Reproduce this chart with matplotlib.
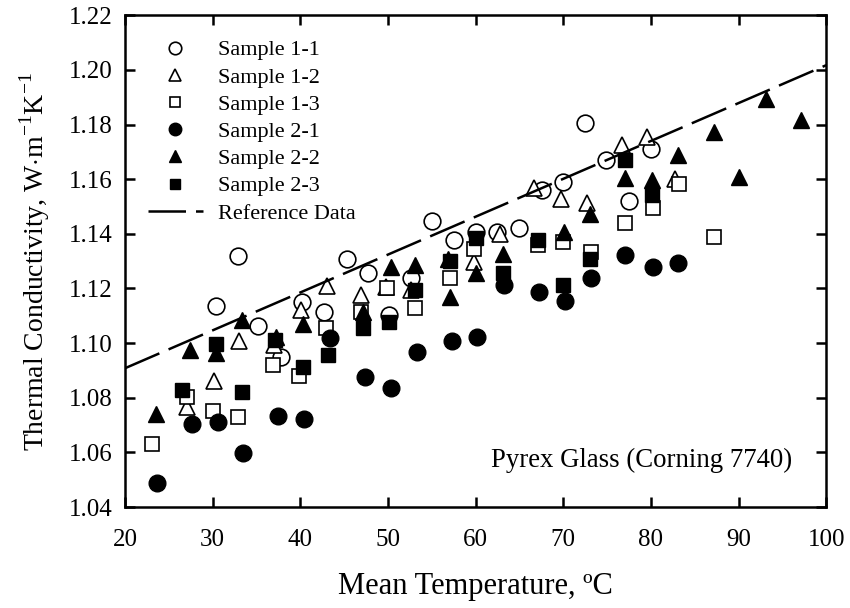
import matplotlib
matplotlib.use('Agg')
import matplotlib.pyplot as plt

plt.rcParams['font.family'] = ['Liberation Serif', 'DejaVu Serif']
plt.rcParams['mathtext.fontset'] = 'custom'
plt.rcParams['mathtext.rm'] = 'Liberation Serif'

# Sample 1-1 (open circles)
t11 = [30.4, 32.9, 35.2, 37.8, 40.2, 42.7, 45.3, 47.7, 50.1, 52.6, 55.0,
       57.5, 60.0, 62.5, 65.0, 67.6, 70.0, 72.5, 74.9, 77.5, 80.0]
k11 = [1.1136, 1.1319, 1.1063, 1.0948, 1.1151, 1.1114, 1.1307, 1.1257, 1.1102,
       1.1237, 1.1447, 1.1379, 1.1407, 1.1407, 1.1420, 1.1562, 1.1590, 1.1806,
       1.1669, 1.1519, 1.1710]

# Sample 1-2 (open triangles)
t12 = [27.1, 30.2, 33.0, 37.0, 40.1, 43.0, 46.9, 49.8, 52.6, 59.8, 62.8,
       66.7, 69.7, 72.7, 76.7, 79.6, 82.7]
k12 = [1.0765, 1.0862, 1.1008, 1.0993, 1.1121, 1.1208, 1.1176, 1.1204, 1.1196,
       1.1297, 1.1401, 1.1566, 1.1526, 1.1511, 1.1724, 1.1755, 1.1602]

# Sample 1-3 (open squares)
t13 = [23.1, 27.1, 30.0, 32.9, 36.9, 39.8, 42.9, 46.9, 49.9, 53.1, 57.1,
       59.8, 67.1, 70.0, 73.2, 77.1, 80.2, 83.2, 87.2]
k13 = [1.0630, 1.0803, 1.0752, 1.0730, 1.0919, 1.0879, 1.1054, 1.1114, 1.1200,
       1.1127, 1.1237, 1.1346, 1.1358, 1.1370, 1.1334, 1.1438, 1.1493, 1.1584,
       1.1389]

# Sample 2-1 (filled circles)
t21 = [23.6, 27.7, 30.6, 33.5, 37.5, 40.4, 43.4, 47.4, 50.3, 53.3, 57.3,
       60.2, 63.2, 67.2, 70.2, 73.2, 77.1, 80.2, 83.1]
k21 = [1.0489, 1.0704, 1.0712, 1.0599, 1.0734, 1.0722, 1.1017, 1.0877, 1.0834,
       1.0968, 1.1008, 1.1022, 1.1212, 1.1188, 1.1155, 1.1237, 1.1322, 1.1277,
       1.1292]

# Sample 2-2 (filled triangles)
t22 = [23.5, 27.4, 30.4, 33.3, 37.2, 40.3, 47.2, 50.3, 53.1, 56.8, 57.1,
       60.0, 63.1, 70.1, 73.1, 77.1, 80.1, 83.1, 87.2, 90.1, 93.1, 97.1]
k22 = [1.0739, 1.0974, 1.0963, 1.1084, 1.1023, 1.1069, 1.1114, 1.1279, 1.1285,
       1.1306, 1.1169, 1.1257, 1.1326, 1.1407, 1.1474, 1.1606, 1.1596, 1.1688,
       1.1773, 1.1608, 1.1895, 1.1816]

# Sample 2-3 (filled squares)
t23 = [26.5, 30.4, 33.3, 37.1, 40.3, 43.2, 47.2, 50.1, 53.1, 57.1, 60.0,
       63.1, 67.1, 70.0, 73.1, 77.1, 80.1]
k23 = [1.0828, 1.0996, 1.0822, 1.1013, 1.0913, 1.0956, 1.1054, 1.1078, 1.1196,
       1.1301, 1.1385, 1.1255, 1.1377, 1.1212, 1.1306, 1.1669, 1.1541]

# reference data line
tref = [20, 100]
kref = [1.0908, 1.2017]

fig = plt.figure(figsize=(8.5, 6.08), dpi=100)
ax = fig.add_axes([0.147, 0.166, 0.825, 0.809])

ms = 12
ax.plot(t11, k11, 'o', ms=ms, mfc='white', mec='black', mew=1.2, label='Sample 1-1')
ax.plot(t12, k12, '^', ms=ms, mfc='white', mec='black', mew=1.2, label='Sample 1-2')
ax.plot(t13, k13, 's', ms=ms - 1.5, mfc='white', mec='black', mew=1.2, label='Sample 1-3')
ax.plot(t21, k21, 'o', ms=ms, mfc='black', mec='black', label='Sample 2-1')
ax.plot(t22, k22, '^', ms=ms, mfc='black', mec='black', label='Sample 2-2')
ax.plot(t23, k23, 's', ms=ms - 1.5, mfc='black', mec='black', label='Sample 2-3')
ax.plot(tref, kref, color='black', lw=1.8, dashes=(15, 4), label='Reference Data')

ax.set_xlim(20, 100)
ax.set_ylim(1.04, 1.22)
ax.set_xticks(range(20, 101, 10))
ax.set_yticks([1.04 + 0.02 * i for i in range(10)])
ax.set_yticklabels(['%.2f' % (1.04 + 0.02 * i) for i in range(10)])

for s in ax.spines.values():
    s.set_linewidth(1.8)
ax.tick_params(direction='in', length=7, width=1.8, top=True, right=True,
               labelsize=18)
ax.tick_params(axis='x', pad=16)
ax.tick_params(axis='y', pad=9)

ax.set_xlabel('Mean Temperature, ºC', fontsize=22, labelpad=15)
ax.set_ylabel(r'Thermal Conductivity, W$\cdot$m$^{\mathregular{-1}}$K$^{\mathregular{-1}}$',
              fontsize=20, labelpad=12)

ax.text(0.952, 0.0955, 'Pyrex Glass (Corning 7740)', transform=ax.transAxes,
        ha='right', va='center', fontsize=19.3)

ax.legend(loc='upper left', bbox_to_anchor=(0.033, 0.95), frameon=False,
          fontsize=16, numpoints=1, markerscale=0.75, handlelength=2.45,
          handletextpad=0.7, labelspacing=0.3, borderpad=0, borderaxespad=0)

fig.savefig('out.png', dpi=100)
